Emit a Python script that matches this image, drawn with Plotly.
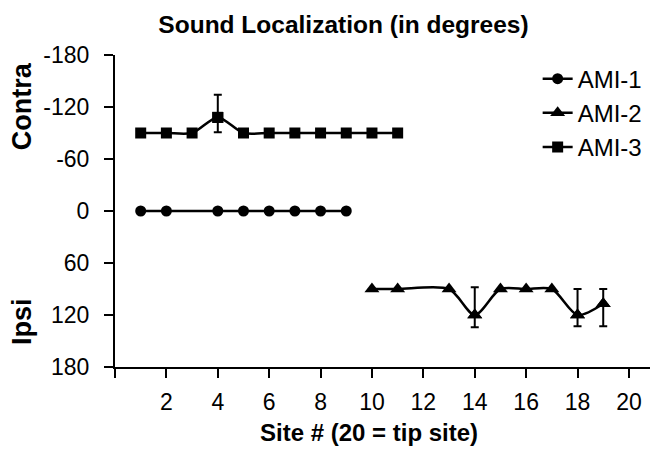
import plotly.graph_objects as go

# ---- data ----
ami1_x = [1, 2, 4, 5, 6, 7, 8, 9]
ami1_y = [0, 0, 0, 0, 0, 0, 0, 0]

ami2_x = [10, 11, 13, 14, 15, 16, 17, 18, 19]
ami2_y = [90, 90, 90, 120, 90, 90, 90, 120, 107]
ami2_err_plus = [None, None, None, 14, None, None, None, 13, 26]
ami2_err_minus = [None, None, None, 32, None, None, None, 30, 17]

ami3_x = [1, 2, 3, 4, 5, 6, 7, 8, 9, 10, 11]
ami3_y = [-90, -90, -90, -108, -90, -90, -90, -90, -90, -90, -90]
ami3_err_plus = [None, None, None, 17, None, None, None, None, None, None, None]
ami3_err_minus = [None, None, None, 26, None, None, None, None, None, None, None]

x_ticks = [0, 2, 4, 6, 8, 10, 12, 14, 16, 18, 20]
x_ticktext = ["", "2", "4", "6", "8", "10", "12", "14", "16", "18", "20"]
y_ticks = [-180, -120, -60, 0, 60, 120, 180]
y_ticktext = ["-180", "-120", "-60", "0", "60", "120", "180"]

FONT = "Liberation Sans, Arial, sans-serif"
BLACK = "#000000"

fig = go.Figure()


def add_series(name, xs, ys, symbol, size, ep=None, em=None):
    fig.add_trace(go.Scatter(
        x=xs, y=ys, name=name, mode="lines+markers",
        line=dict(color=BLACK, width=2.5, shape="spline", smoothing=0.8),
        marker=dict(symbol=symbol, size=size, color=BLACK),
    ))
    if ep is not None:
        idx = [i for i, v in enumerate(ep) if v is not None]
        fig.add_trace(go.Scatter(
            x=[xs[i] for i in idx], y=[ys[i] for i in idx],
            mode="markers", showlegend=False, hoverinfo="skip",
            marker=dict(symbol=symbol, size=size, color=BLACK),
            error_y=dict(type="data", symmetric=False,
                         array=[ep[i] for i in idx],
                         arrayminus=[em[i] for i in idx],
                         color=BLACK, thickness=2, width=4),
        ))


add_series("AMI-1", ami1_x, ami1_y, "circle", 11)
add_series("AMI-2", ami2_x, ami2_y, "triangle-up", 13, ami2_err_plus, ami2_err_minus)
add_series("AMI-3", ami3_x, ami3_y, "square", 11, ami3_err_plus, ami3_err_minus)

fig.update_layout(
    width=654, height=456,
    margin=dict(l=115, r=4, t=55, b=89),
    paper_bgcolor="white", plot_bgcolor="white",
    font=dict(family=FONT, color=BLACK, size=23),
    title=dict(text="<b>Sound Localization (in degrees)</b>",
               font=dict(size=24.5, family=FONT, color=BLACK),
               x=343.5 / 654, xref="container", xanchor="center",
               y=1 - 24 / 456, yref="container", yanchor="middle"),
    showlegend=True,
    legend=dict(x=0.79, y=0.995, xanchor="left", yanchor="top",
                font=dict(size=24, family=FONT, color=BLACK),
                bgcolor="rgba(0,0,0,0)", itemwidth=30, tracegroupgap=0),
    xaxis=dict(range=[0, 20.82], tickvals=x_ticks, ticktext=x_ticktext,
               showline=True, linecolor=BLACK, linewidth=2,
               ticks="outside", ticklen=9, tickwidth=2, tickcolor=BLACK,
               showgrid=False, zeroline=False, ticklabelstandoff=4,
               tickfont=dict(size=23, family=FONT, color=BLACK)),
    yaxis=dict(range=[180, -180], tickvals=y_ticks, ticktext=y_ticktext,
               showline=True, linecolor=BLACK, linewidth=2,
               ticks="outside", ticklen=9, tickwidth=2, tickcolor=BLACK,
               showgrid=False, zeroline=False, ticklabelstandoff=10,
               tickfont=dict(size=23, family=FONT, color=BLACK)),
    annotations=[
        dict(text="<b>Site # (20 = tip site)</b>", xref="paper", yref="paper",
             x=(369 - 115) / 535, y=-(432 - 367) / 312, showarrow=False,
             xanchor="center", yanchor="middle",
             font=dict(size=24, family=FONT, color=BLACK)),
        dict(text="<b>Contra</b>", xref="paper", yref="y", x=(22 - 115) / 535, y=-121,
             textangle=-90, showarrow=False, xanchor="center", yanchor="middle",
             font=dict(size=27, family=FONT, color=BLACK)),
        dict(text="<b>Ipsi</b>", xref="paper", yref="y", x=(22 - 115) / 535, y=128,
             textangle=-90, showarrow=False, xanchor="center", yanchor="middle",
             font=dict(size=27, family=FONT, color=BLACK)),
    ],
)

fig.write_html("out.html")
